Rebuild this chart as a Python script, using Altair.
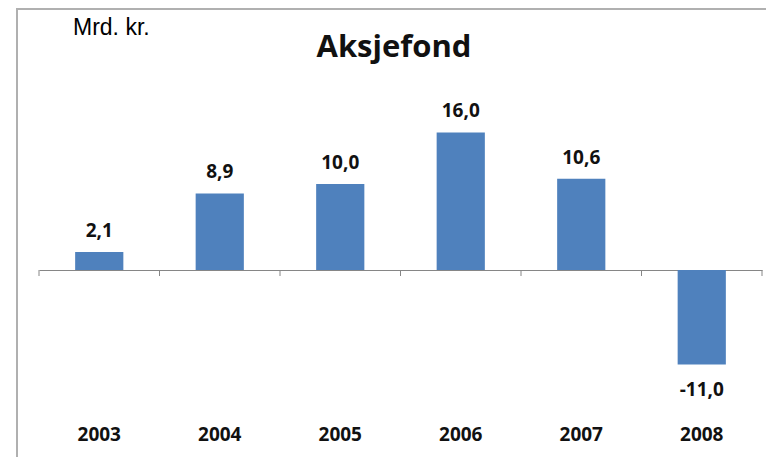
import altair as alt
import pandas as pd

years = ["2003", "2004", "2005", "2006", "2007", "2008"]
values = [2.1, 8.9, 10.0, 16.0, 10.6, -11.0]
title_text = "Aksjefond"
unit_text = "Mrd. kr."

labels = [f"{v:.1f}".replace(".", ",") for v in values]
df = pd.DataFrame({"year": years, "value": values, "label": labels})

W, H = 723, 344
PAD_IN, PAD_OUT = 0.6, 0.3
STEP = W / (len(years) - PAD_IN + 2 * PAD_OUT)
GAP = PAD_OUT * STEP  # distance from bar edge to category boundary
BAR = "#4F81BD"
AXIS_GREY = "#868686"
ZERO_PX = 215  # plot-area pixel of value 0 with domain [-15, 25]

xscale = alt.Scale(paddingInner=PAD_IN, paddingOuter=PAD_OUT)
x = alt.X(
    "year:N", sort=years, title=None, scale=xscale,
    axis=alt.Axis(
        orient="bottom", offset=-129, ticks=False,
        domainColor=AXIS_GREY, domainWidth=1,
        labelAngle=0, labelFont="Open Sans", labelFontWeight="bold",
        labelFontSize=19, labelColor="#111111", labelBaseline="alphabetic",
        labelPadding=170, grid=False,
    ),
)
y = alt.Y("value:Q", scale=alt.Scale(domain=[-15, 25], nice=False), axis=None)

base = alt.Chart(df)
bars = base.mark_bar(color=BAR).encode(x=x, y=y)

txt = dict(font="Open Sans", fontWeight="bold", fontSize=19,
           baseline="alphabetic", color="#111111")
pos = base.transform_filter("datum.value >= 0").mark_text(dy=-15, **txt).encode(
    x=x, y=y, text="label:N")
neg = base.transform_filter("datum.value < 0").mark_text(dy=31, **txt).encode(
    x=x, y=y, text="label:N")

# category-boundary ticks below the zero line
ticks_left = base.mark_rule(color=AXIS_GREY, strokeWidth=1, xOffset=-GAP).encode(
    x=alt.X("year:N", sort=years, bandPosition=0),
    y=alt.value(ZERO_PX), y2=alt.value(ZERO_PX + 6))
ticks_right = base.transform_filter(f"datum.year == '{years[-1]}'").mark_rule(
    color=AXIS_GREY, strokeWidth=1, xOffset=GAP).encode(
    x=alt.X("year:N", sort=years, bandPosition=1),
    y=alt.value(ZERO_PX), y2=alt.value(ZERO_PX + 6))

one = pd.DataFrame({"t": [0]})
title = alt.Chart(one).mark_text(
    text=title_text, font="Open Sans", fontWeight="bold", fontSize=31,
    baseline="alphabetic", align="center", color="#111111",
).encode(x=alt.value(355), y=alt.value(2))
unit = alt.Chart(one).mark_text(
    text=unit_text, font="Liberation Sans", fontSize=23,
    baseline="alphabetic", align="left", color="#000000",
).encode(x=alt.value(34), y=alt.value(-20))

border_top = alt.Chart(one).mark_rule(color="#b0b0b0", strokeWidth=2).encode(
    x=alt.value(-22), x2=alt.value(740), y=alt.value(-46))
border_left = alt.Chart(one).mark_rule(color="#b0b0b0", strokeWidth=2).encode(
    x=alt.value(-22), y=alt.value(-47), y2=alt.value(420))

chart = alt.layer(border_top, border_left, bars, ticks_left, ticks_right,
                  pos, neg, title, unit).properties(
    width=W, height=H,
    autosize=alt.AutoSizeParams(type="none"),
    padding={"left": 31, "top": 47, "right": 4, "bottom": 58},
).configure_view(stroke=None)

chart.save("out.html", embed_options={"renderer": "svg", "actions": False})
